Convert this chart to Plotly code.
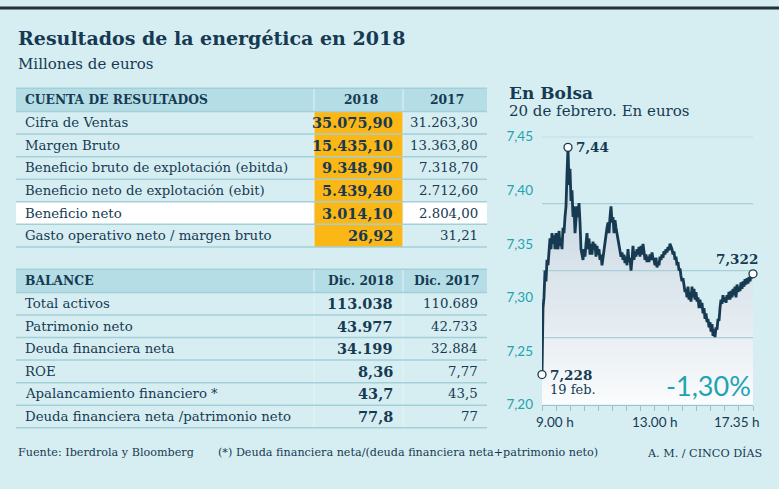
import numpy as np
import plotly.graph_objects as go

W, H = 779, 489

# ---- datos ----
conceptos_resultados = ["Cifra de Ventas", "Margen Bruto", "Beneficio bruto de explotación (ebitda)",
                        "Beneficio neto de explotación (ebit)", "Beneficio neto",
                        "Gasto operativo neto / margen bruto"]
resultados_2018 = ["35.075,90", "15.435,10", "9.348,90", "5.439,40", "3.014,10", "26,92"]
resultados_2017 = ["31.263,30", "13.363,80", "7.318,70", "2.712,60", "2.804,00", "31,21"]

conceptos_balance = ["Total activos", "Patrimonio neto", "Deuda financiera neta", "ROE",
                     "Apalancamiento financiero *", "Deuda financiera neta /patrimonio neto"]
balance_2018 = ["113.038", "43.977", "34.199", "8,36", "43,7", "77,8"]
balance_2017 = ["110.689", "42.733", "32.884", "7,77", "43,5", "77"]

# cotizacion intradia 20 feb (euros), de 9.00 h a 17.35 h
precios = [
    7.228, 7.29, 7.30, 7.325, 7.315, 7.335, 7.33, 7.34, 7.355, 7.345,
    7.36, 7.35, 7.358, 7.345, 7.36, 7.35, 7.345, 7.362, 7.348, 7.355,
    7.345, 7.365, 7.36, 7.375, 7.385, 7.415, 7.44, 7.405, 7.42, 7.39,
    7.40, 7.375, 7.385, 7.36, 7.37, 7.385, 7.375, 7.388, 7.37, 7.345,
    7.34, 7.335, 7.345, 7.338, 7.35, 7.36, 7.345, 7.355, 7.34, 7.35,
    7.34, 7.352, 7.345, 7.35, 7.338, 7.348, 7.34, 7.345, 7.335, 7.34,
    7.33, 7.338, 7.345, 7.355, 7.36, 7.365, 7.37, 7.36, 7.375, 7.385,
    7.37, 7.375, 7.36, 7.372, 7.365, 7.36, 7.355, 7.35, 7.345, 7.338,
    7.342, 7.335, 7.34, 7.332, 7.338, 7.33, 7.345, 7.333, 7.337, 7.325,
    7.335, 7.348, 7.335, 7.343, 7.338, 7.345, 7.34, 7.347, 7.338, 7.348,
    7.34, 7.35, 7.343, 7.335, 7.34, 7.333, 7.338, 7.333, 7.34, 7.335,
    7.342, 7.336, 7.335, 7.33, 7.337, 7.328, 7.333, 7.33, 7.338, 7.335,
    7.34, 7.337, 7.343, 7.34, 7.345, 7.342, 7.347, 7.344, 7.35, 7.348,
    7.345, 7.34, 7.343, 7.335, 7.338, 7.33, 7.333, 7.325, 7.327, 7.32,
    7.315, 7.318, 7.31, 7.305, 7.308, 7.30, 7.31, 7.298, 7.305, 7.296,
    7.31, 7.30, 7.308, 7.298, 7.305, 7.296, 7.30, 7.29, 7.298, 7.29,
    7.295, 7.285, 7.29, 7.28, 7.285, 7.277, 7.28, 7.272, 7.277, 7.268,
    7.275, 7.264, 7.27, 7.263, 7.272, 7.27, 7.28, 7.278, 7.29, 7.298,
    7.294, 7.302, 7.296, 7.30, 7.295, 7.302, 7.298, 7.305, 7.298, 7.306,
    7.30, 7.308, 7.302, 7.31, 7.30, 7.312, 7.305, 7.31, 7.306, 7.314,
    7.308, 7.315, 7.31, 7.317, 7.312, 7.318, 7.313, 7.319, 7.315, 7.32,
    7.318, 7.322,
]
minutos = np.linspace(0, 515, len(precios))  # minutos desde las 9.00 h

valores_eje_y = [7.20, 7.25, 7.30, 7.35, 7.40, 7.45]
etiquetas_eje_y = ["7,20", "7,25", "7,30", "7,35", "7,40", "7,45"]
rejilla_y = [7.2625, 7.325, 7.3875, 7.45]
minutos_hora = [0, 240, 515]
etiquetas_hora = ["9.00 h", "13.00 h", "17.35 h"]
variacion = "-1,30%"

# ---- estilo ----
BG = "#d6eef2"
HEADER = "#b4dde5"
LINEA = "#a3cfd9"
SEPARADOR = "#e4f3f6"
AMARILLO = "#fbb716"
NAVY = "#163a52"
TEAL = "#22a3b0"
SERIF = "DejaVu Serif"
SANS = "Lato"


def px_x(v):
    return v / W


def px_y(v):
    return 1 - v / H


fig = go.Figure()
anots = []
formas = []


def texto(x, y, t, size, color=NAVY, family=SERIF, xanchor="left", **kw):
    anots.append(dict(x=x, y=y, text=t, showarrow=False, xanchor=xanchor,
                      font=dict(family=family, size=size, color=color), **kw))


def rect(x0, y0, x1, y1, color):
    formas.append(dict(type="rect", xref="paper", yref="paper", layer="below",
                       x0=px_x(x0), x1=px_x(x1), y0=px_y(y0), y1=px_y(y1),
                       fillcolor=color, line=dict(width=0)))


def linea(x0, y0, x1, y1, color, width):
    formas.append(dict(type="line", xref="paper", yref="paper", layer="below",
                       x0=px_x(x0), x1=px_x(x1), y0=px_y(y0), y1=px_y(y1),
                       line=dict(color=color, width=width)))


# ---- tablas ----
IZQ, C1, C2, DER = 16, 314, 403, 487
FILA, CAB = 23.33, 24


def tabla(cabecera, conceptos, col1, col2, top, amarillo=False, fila_blanca=None):
    n = len(conceptos)
    fondo = top + CAB
    bottom = fondo + FILA * n
    rect(IZQ, top, DER, fondo, HEADER)
    if fila_blanca is not None:
        rect(IZQ, fondo + FILA * fila_blanca, DER, fondo + FILA * (fila_blanca + 1), "white")
    if amarillo:
        rect(C1, fondo, C2, bottom, AMARILLO)
    for xs in (C1, C2):
        linea(xs, top, xs, bottom, SEPARADOR, 1)
    for i in range(n + 2):
        yl = top if i == 0 else fondo + FILA * (i - 1)
        linea(IZQ, yl, DER, yl, LINEA, 1.5)
    yc = top + CAB / 2
    texto(px_x(IZQ + 7), px_y(yc), "<b>%s</b>" % cabecera[0], 12.3, xref="paper", yref="paper",
          yanchor="middle")
    for t, xc in zip(cabecera[1:], [(C1 + C2) / 2 + 2, (C2 + DER) / 2 + 2]):
        texto(px_x(xc), px_y(yc), "<b>%s</b>" % t, 12.3, xref="paper", yref="paper",
              yanchor="middle", xanchor="center")
    for i in range(n):
        yc = fondo + FILA * (i + 0.5)
        texto(px_x(IZQ + 7), px_y(yc), conceptos[i], 13.3, xref="paper", yref="paper",
              yanchor="middle")
        texto(px_x(C2 - 8), px_y(yc), "<b>%s</b>" % col1[i], 14.5, xref="paper", yref="paper",
              yanchor="middle", xanchor="right")
        texto(px_x(DER - 7), px_y(yc), col2[i], 13.3, xref="paper", yref="paper",
              yanchor="middle", xanchor="right")


tabla(["CUENTA DE RESULTADOS", "2018", "2017"], conceptos_resultados,
      resultados_2018, resultados_2017, 83, amarillo=True, fila_blanca=4)
tabla(["BALANCE", "Dic. 2018", "Dic. 2017"], conceptos_balance,
      balance_2018, balance_2017, 270)

# ---- grafico de bolsa ----
fig.add_trace(go.Scatter(
    x=minutos, y=precios, mode="lines", fill="tozeroy", line=dict(width=0),
    fillgradient=dict(type="vertical", start=7.20, stop=7.44,
                      colorscale=[[0, "rgba(255,255,255,0.97)"], [1, "rgba(186,198,214,0.6)"]]),
    hoverinfo="skip",
))
for g in rejilla_y:
    fig.add_trace(go.Scatter(x=[minutos[0], minutos[-1]], y=[g, g], mode="lines",
                             line=dict(color="#a9cfd9", width=1.3), cliponaxis=False,
                             hoverinfo="skip"))
fig.add_trace(go.Scatter(x=minutos, y=precios, mode="lines",
                         line=dict(color=NAVY, width=2.8)))

imax = int(np.argmax(precios))
puntos = [0, imax, len(precios) - 1]
fig.add_trace(go.Scatter(
    x=[minutos[i] for i in puntos], y=[precios[i] for i in puntos], mode="markers",
    marker=dict(size=8, color="white", line=dict(color=NAVY, width=1.3)),
    cliponaxis=False,
))

fig.update_xaxes(range=[0, 515], domain=[px_x(542), px_x(753)], showgrid=False, zeroline=False,
                 showline=True, linecolor="#9cc2cd", linewidth=1.3,
                 tickmode="array", tickvals=np.linspace(0, 515, 16), ticks="outside",
                 ticklen=5, tickcolor="#9cc2cd", showticklabels=False)
fig.update_yaxes(range=[7.20, 7.45], domain=[px_y(410), px_y(133)], showgrid=False,
                 zeroline=False, showline=False,
                 tickmode="array", tickvals=valores_eje_y, ticktext=etiquetas_eje_y,
                 tickfont=dict(family=SANS, size=13.5, color=TEAL), ticklabelstandoff=8)

# titulos
texto(px_x(16), px_y(31), "<b>Resultados de la energética en 2018</b>", 19,
      xref="paper", yref="paper", yanchor="middle")
texto(px_x(16), px_y(58), "Millones de euros", 15, xref="paper", yref="paper", yanchor="middle")
texto(px_x(507), px_y(88), "<b>En Bolsa</b>", 17, xref="paper", yref="paper", yanchor="middle")
texto(px_x(507), px_y(107), "20 de febrero. En euros", 15, xref="paper", yref="paper",
      yanchor="middle")

# notas del grafico
texto(minutos[imax], precios[imax], "<b>7,44</b>", 13.5, xshift=6, yanchor="middle")
texto(minutos[0], precios[0], "<b>7,228</b>", 13.5, xshift=6, yanchor="middle")
texto(minutos[0], precios[0], "19 feb.", 13, xshift=6, yshift=-15, yanchor="middle")
texto(minutos[-1], precios[-1], "<b>7,322</b>", 13.5, xanchor="right", xshift=7, yshift=15,
      yanchor="middle")
texto(minutos[-1], 7.20, variacion, 27, color=TEAL, family=SANS, xanchor="right",
      yanchor="bottom", yshift=1)
for m, t, anc, sh in zip(minutos_hora, etiquetas_hora, ["left", "left", "right"], [-8, -10, 9]):
    texto(m, 7.20, t, 13.5, family=SANS, xanchor=anc, xshift=sh, yanchor="top", yshift=-7)

# pie
texto(px_x(16), px_y(460), "Fuente: Iberdrola y Bloomberg", 11.2, xref="paper", yref="paper",
      yanchor="middle")
texto(px_x(216), px_y(460), "(*) Deuda financiera neta/(deuda financiera neta+patrimonio neto)",
      11.2, xref="paper", yref="paper", yanchor="middle")
texto(px_x(764), px_y(460), "A. M. / CINCO DÍAS", 11.2, xref="paper", yref="paper",
      yanchor="middle", xanchor="right")

formas.append(dict(type="line", xref="paper", yref="paper", x0=0, x1=1, y0=1, y1=1,
                   line=dict(color="#22313b", width=3)))

fig.update_layout(
    width=W, height=H, margin=dict(l=0, r=0, t=0, b=0),
    paper_bgcolor=BG, plot_bgcolor=BG, showlegend=False,
    annotations=anots, shapes=formas,
)

fig.write_html("out.html", config={"displayModeBar": False},
               post_script="document.body.style.margin = '0';")
